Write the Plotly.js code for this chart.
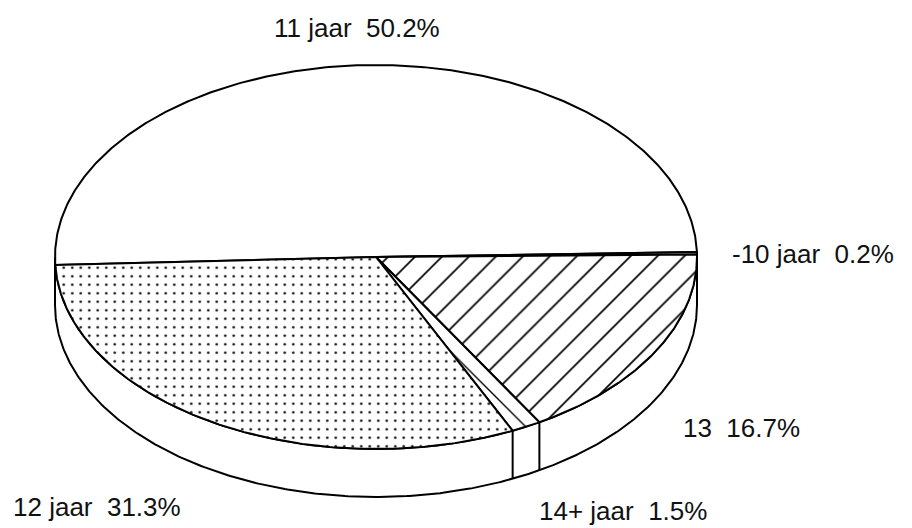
<!DOCTYPE html>
<html><head><meta charset="utf-8">
<script src="https://cdn.plot.ly/plotly-3.0.1.min.js"></script>
<style>html,body{margin:0;padding:0;background:#fff}#chart{width:912px;height:528px}</style>
</head><body><div id="chart"></div>
<script>
// ---- data ----
const categories = ['11 jaar', '-10 jaar', '13', '14+ jaar', '12 jaar'];
const shares = [50.2, 0.2, 16.7, 1.5, 31.3];
const shareLabels = ['50.2%', '0.2%', '16.7%', '1.5%', '31.3%'];

// ---- styling / layout (not data) ----
const CX = 376, CY = 257, RX = 321, RY = 192, DEPTH = 48, START = 182.4;
const patterns = [
  null,
  null,
  {shape: '/', size: 19, solidity: 0.09},
  {shape: '\\', size: 14, solidity: 0.1},
  {shape: '.', size: 8.5, solidity: 0.07}
];
const labelPos = [
  {x: 272, y: 28}, {x: 730, y: 254}, {x: 681, y: 428}, {x: 537, y: 511}, {x: 11, y: 507}
];

const rad = d => d * Math.PI / 180;
const px = d => CX + RX * Math.cos(rad(d));
const py = d => CY - RY * Math.sin(rad(d));

const traces = [];

// side band (front half of the disc)
{
  const xs = [], ys = [];
  for (let d = 180; d <= 360.001; d += 0.5) { xs.push(px(d)); ys.push(py(d)); }
  for (let d = 360; d >= 179.999; d -= 0.5) { xs.push(px(d)); ys.push(py(d) + DEPTH); }
  xs.push(xs[0]); ys.push(ys[0]);
  traces.push({x: xs, y: ys, mode: 'lines', fill: 'toself', fillcolor: '#ffffff',
    line: {color: '#000', width: 2}, hoverinfo: 'skip', showlegend: false});
}

const total = shares.reduce((s, v) => s + v, 0);
let t = START;
const bounds = [];
shares.forEach((v, i) => {
  const span = v / total * 360;
  const xs = [CX], ys = [CY];
  const n = Math.max(2, Math.ceil(span / 0.5));
  for (let k = 0; k <= n; k++) { const d = t - span * k / n; xs.push(px(d)); ys.push(py(d)); }
  xs.push(CX); ys.push(CY);
  const tr = {x: xs, y: ys, mode: 'lines', fill: 'toself', fillcolor: '#ffffff',
    line: {color: '#000', width: 2}, hoverinfo: 'skip', showlegend: false, name: categories[i]};
  if (patterns[i]) {
    tr.fillpattern = Object.assign({fgcolor: '#000', bgcolor: '#fff', fillmode: 'replace'}, patterns[i]);
  }
  traces.push(tr);
  t -= span;
  bounds.push(t);
});

// vertical edges on the side band where slice boundaries are in front
bounds.forEach(d => {
  if (Math.sin(rad(d)) < -0.15) {
    traces.push({x: [px(d), px(d)], y: [py(d), py(d) + DEPTH], mode: 'lines',
      line: {color: '#000', width: 2}, hoverinfo: 'skip', showlegend: false});
  }
});

const annotations = categories.map((c, i) => ({
  x: labelPos[i].x, y: labelPos[i].y, xref: 'x', yref: 'y',
  xanchor: 'left', yanchor: 'middle', showarrow: false,
  text: c + '\u00a0\u00a0' + shareLabels[i],
  font: {family: 'Liberation Sans, Arial, sans-serif', size: 26, color: '#111'}
}));

const layout = {
  width: 912, height: 528,
  margin: {l: 0, r: 0, t: 0, b: 0},
  paper_bgcolor: '#fff', plot_bgcolor: '#fff',
  xaxis: {range: [0, 912], visible: false, fixedrange: true},
  yaxis: {range: [528, 0], visible: false, fixedrange: true},
  annotations: annotations,
  showlegend: false,
  hovermode: false
};

Plotly.newPlot('chart', traces, layout, {displayModeBar: false, staticPlot: true});
</script>
</body></html>
